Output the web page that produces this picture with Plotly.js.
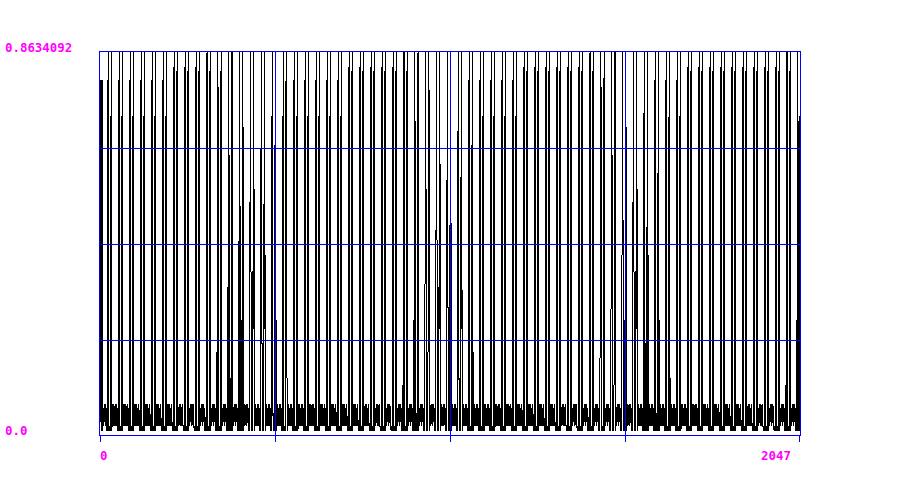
<!DOCTYPE html>
<html>
<head>
<meta charset="utf-8">
<script src="https://cdn.plot.ly/plotly-3.0.1.min.js"></script>
<style>
  html, body { margin: 0; padding: 0; background: #fff; }
  #chart { width: 900px; height: 485px; }
  .scatterlayer .trace:first-child path.js-line { shape-rendering: crispEdges; }
</style>
</head>
<body>
<div id="chart"></div>
<script>
// ---- data ----
// the signal repeats about every 32 samples; one 32-sample shape per cycle type
const headValues = [0.52,0.80,0.52,0.01,0.80,0.01,0.80,0.01,0.07,0.02,0.06,
                    0.02,0.07,0.03,0.06,0.02,0.07,0.02,0.06,0.03,0.01,0.02];
const cycleA = [0.01,0.80,0.01,0.8634,0.01,0.01,0.02,0.01,0.02,0.01,0.72,0.01,0.8634,0.01,
                0.07,0.02,0.06,0.02,0.07,0.03,0.06,0.02,0.07,0.02,0.06,0.03,0.07,0.02,0.06,
                0.01,0.01,0.02];
const cycleB = [0.01,0.83,0.01,0.8634,0.01,0.01,0.02,0.01,0.02,0.01,0.82,0.01,0.8634,0.01,
                0.07,0.02,0.06,0.02,0.07,0.03,0.06,0.02,0.07,0.02,0.06,0.03,0.07,0.02,0.06,
                0.01,0.01,0.02];
const cycleC = [0.01,0.72,0.51,0.8634,0.01,0.01,0.02,0.01,0.02,0.01,0.80,0.24,0.8634,0.01,
                0.07,0.02,0.06,0.02,0.07,0.03,0.06,0.02,0.07,0.02,0.06,0.03,0.07,0.02,0.06,
                0.01,0.01,0.02];
const tailValues = [0.01,0.83,0.01,0.8634,0.01,0.01,0.02,0.01,0.72,0.26];
// order of the 63 full cycles between head and tail
const cycleOrder = "AAAAAABBBBBBBCCC" + "CAAAAABBBBBBBCCC" + "CAAAAABBBBBBBCCC" + "CAAAABBBBBBBBBB";
const yMax = 0.8634092;
const xMax = 2047;
const labelTopY = "0.8634092", labelBottomY = "0.0", labelLeftX = "0", labelRightX = "2047";

const cycleTypes = { A: cycleA, B: cycleB, C: cycleC };
const values = [...headValues];
for (const ch of cycleOrder) values.push(...cycleTypes[ch]);
values.push(...tailValues);
const idx = values.map((_, i) => i);

// ---- layout geometry (pixels) ----
const plotL = 100, plotT = 52, plotW = 700, plotH = 383;
const gridRowsPx = [148.5, 244.5, 340.5];           // blue horizontal grid rows
const gridColsPx = [275.5, 450.5, 625.5];           // blue vertical grid columns
const tickColsPx = [100.5, 275.5, 450.5, 625.5, 799.5];
const pxToX = px => (px - plotL) / plotW * xMax;
const pxToY = py => (plotT + plotH - py) / plotH * yMax;

const magenta = '#ff00ff', blue = '#0000ff';
const lblFont = { family: 'DejaVu Sans Mono', size: 12.4, color: magenta, weight: 'bold' };

const dataTrace = {
  x: idx, y: values, type: 'scatter', mode: 'lines',
  line: { color: '#000000', width: 1, shape: 'linear', simplify: false },
  hoverinfo: 'skip'
};

// blue grid drawn above the data, as in the reference
const gx = [], gy = [];
for (const py of gridRowsPx) { gx.push(0, xMax, null); gy.push(pxToY(py), pxToY(py), null); }
for (const px of gridColsPx) { gx.push(pxToX(px), pxToX(px), null); gy.push(0, yMax, null); }
const gridTrace = {
  x: gx, y: gy, type: 'scatter', mode: 'lines', connectgaps: false,
  line: { color: blue, width: 1, simplify: false }, hoverinfo: 'skip'
};

const layout = {
  width: 900, height: 485,
  margin: { l: plotL, r: 900 - plotL - plotW, t: plotT, b: 485 - plotT - plotH, pad: 0 },
  paper_bgcolor: '#ffffff', plot_bgcolor: '#ffffff',
  showlegend: false,
  xaxis: {
    range: [0, xMax], tickvals: tickColsPx.map(pxToX), showticklabels: false,
    ticks: 'outside', ticklen: 6, tickcolor: blue, tickwidth: 1,
    showgrid: false, zeroline: false,
    showline: true, linecolor: blue, linewidth: 1, mirror: true,
    layer: 'above traces', fixedrange: true
  },
  yaxis: {
    range: [0, yMax], showticklabels: false, ticks: '',
    showgrid: false, zeroline: false,
    showline: true, linecolor: blue, linewidth: 1, mirror: true,
    layer: 'above traces', fixedrange: true
  },
  annotations: [
    { text: labelTopY, xref: 'paper', yref: 'paper', x: (3 - 100) / 700, y: (435 - 47.3) / 383,
      xanchor: 'left', yanchor: 'middle', showarrow: false, font: lblFont },
    { text: labelBottomY, xref: 'paper', yref: 'paper', x: (3 - 100) / 700, y: (435 - 430.7) / 383,
      xanchor: 'left', yanchor: 'middle', showarrow: false, font: lblFont },
    { text: labelLeftX, xref: 'paper', yref: 'paper', x: (98 - 100) / 700, y: (435 - 455) / 383,
      xanchor: 'left', yanchor: 'middle', showarrow: false, font: lblFont },
    { text: labelRightX, xref: 'paper', yref: 'paper', x: (793 - 100) / 700, y: (435 - 455) / 383,
      xanchor: 'right', yanchor: 'middle', showarrow: false, font: lblFont }
  ]
};

Plotly.newPlot('chart', [dataTrace, gridTrace], layout, { displayModeBar: false, staticPlot: true });
</script>
</body>
</html>
